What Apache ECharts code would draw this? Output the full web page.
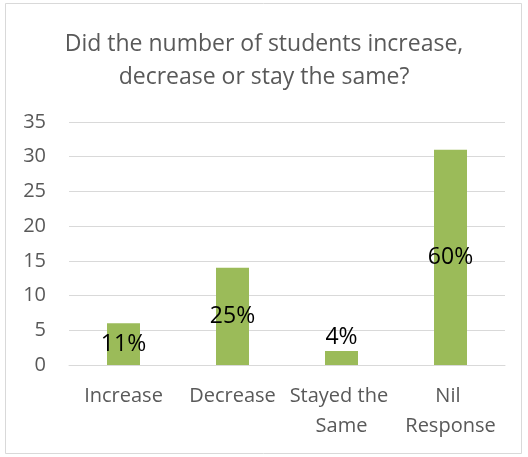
<!DOCTYPE html>
<html>
<head>
<meta charset="utf-8">
<script src="https://cdn.jsdelivr.net/npm/echarts@6/dist/echarts.min.js"></script>
<style>
  html, body { margin: 0; padding: 0; background: #fff; }
  #chart { width: 528px; height: 457px; }
</style>
</head>
<body>
<div id="chart"></div>
<script>
// Survey answers: how student numbers changed
const categories = ['Increase', 'Decrease', 'Stayed the Same', 'Nil Response'];
const counts = [6, 14, 2, 31];
const percentLabels = ['11%', '25%', '4%', '60%'];
const yTicks = { min: 0, max: 35, interval: 5 };

const FONT = '"Open Sans", sans-serif';

const chart = echarts.init(document.getElementById('chart'));

const barData = counts.map((v, i) => ({
  value: v,
  label: {
    show: true,
    formatter: percentLabels[i],
    position: v < 4 ? 'top' : 'inside',
    distance: 2
  }
}));

chart.setOption({
  animation: false,
  backgroundColor: '#ffffff',
  title: {
    text: 'Did the number of students increase,\ndecrease or stay the same?',
    left: 'center',
    top: 23,
    textStyle: {
      fontFamily: FONT,
      fontSize: 23,
      fontWeight: 'normal',
      color: '#595959',
      lineHeight: 33
    }
  },
  graphic: [{
    type: 'rect',
    shape: { x: 5.5, y: 3.5, width: 516, height: 450 },
    style: { fill: 'none', stroke: '#d9d9d9', lineWidth: 1 },
    silent: true
  }],
  grid: { left: 69, right: 23, top: 122, bottom: 92 },
  xAxis: {
    type: 'category',
    data: categories,
    axisLine: { lineStyle: { color: '#d9d9d9', width: 1 } },
    axisTick: { show: false },
    axisLabel: {
      fontFamily: FONT,
      fontSize: 20,
      color: '#595959',
      lineHeight: 30,
      margin: 16,
      interval: 0,
      width: 106,
      overflow: 'break'
    }
  },
  yAxis: {
    type: 'value',
    min: yTicks.min,
    max: yTicks.max,
    interval: yTicks.interval,
    axisLine: { show: false },
    axisTick: { show: false },
    splitLine: { lineStyle: { color: '#d9d9d9', width: 1 } },
    axisLabel: {
      fontFamily: FONT,
      fontSize: 20,
      color: '#595959',
      margin: 23
    }
  },
  series: [{
    type: 'bar',
    data: barData,
    barWidth: 33,
    itemStyle: { color: '#9bbb59' },
    label: {
      fontFamily: FONT,
      fontSize: 23,
      color: '#000000'
    }
  }]
});
</script>
</body>
</html>
